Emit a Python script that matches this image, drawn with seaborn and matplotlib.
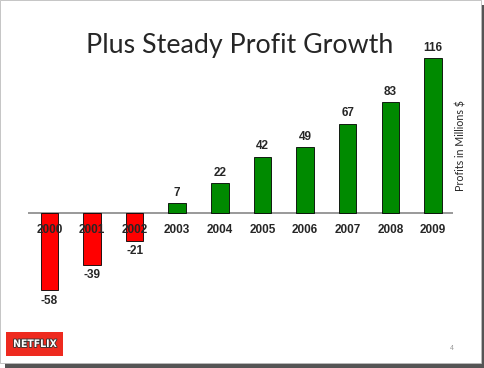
import matplotlib
matplotlib.use("Agg")
import matplotlib.pyplot as plt
import seaborn as sns
import pandas as pd
from matplotlib.patches import Rectangle
import matplotlib.patheffects as pe

years = ["2000", "2001", "2002", "2003", "2004", "2005", "2006", "2007", "2008", "2009"]
profits = [-58, -39, -21, 7, 22, 42, 49, 67, 83, 116]
title = "Plus Steady Profit Growth"
ylabel = "Profits in Millions $"

df = pd.DataFrame({"year": years, "profit": profits})
palette = {y: ("#ff0000" if p < 0 else "#008a00") for y, p in zip(years, profits)}

sns.set_style("white")
plt.rcParams['font.family'] = ['Liberation Sans', 'DejaVu Sans']

fig = plt.figure(figsize=(4.85, 3.68), dpi=100)

# slide shadow and frame
W, H = 485, 368
fig.patches.append(Rectangle((5 / W, 0), 476 / W, 5 / H, transform=fig.transFigure,
                             facecolor="#555555", edgecolor="none", zorder=0))
fig.patches.append(Rectangle((481 / W, 0), 4 / W, 363 / H, transform=fig.transFigure,
                             facecolor="#555555", edgecolor="none", zorder=0))
fig.patches.append(Rectangle((0, 5 / H), 481 / W, 363 / H, transform=fig.transFigure,
                             facecolor="white", edgecolor="#bbbbbb", linewidth=0.6, zorder=1))

ax = fig.add_axes([28 / W, 1 - 305.9 / H, 425 / W, (305.9 - 46.3) / H])
ax.set_zorder(5)
ax.set_facecolor("none")
sns.barplot(data=df, x="year", y="profit", hue="year", palette=palette, legend=False,
            width=0.41, edgecolor="black", linewidth=0.6, saturation=1, ax=ax)
ax.set_ylim(-70, 125)
ax.set_xlim(-0.5, 9.47)
ax.axhline(0, color="#888888", linewidth=1.2, zorder=0.5)
for s in ax.spines.values():
    s.set_visible(False)
ax.set_yticks([])
ax.set_xlabel("")
ax.set_ylabel("")
ax.set_xticks([])
for i, y in enumerate(years):
    ax.text(i, -13.3, y, ha="center", va="center", fontsize=8.5, fontweight="bold", zorder=5)
for i, p in enumerate(profits):
    if p >= 0:
        ax.text(i, p + 8, str(p), ha="center", va="center", fontsize=8.5, fontweight="bold")
    else:
        ax.text(i, p - 8, str(p), ha="center", va="center", fontsize=8.5, fontweight="bold")

fig.text(240 / W, 1 - 46 / H, title, ha="center", va="center", fontsize=19.3,
         family=["Lato", "DejaVu Sans"])
fig.text(461 / W, 1 - 146 / H, ylabel, ha="center", va="center", rotation=90,
         fontsize=7.7, family=["Lato", "DejaVu Sans"])
fig.text(452 / W, 1 - 348 / H, "4", ha="center", va="center", fontsize=5, color="#999999")

# Netflix logo
fig.patches.append(Rectangle((6 / W, 1 - 356 / H), 57 / W, 24 / H, transform=fig.transFigure,
                             facecolor="#ee2a1f", edgecolor="none", zorder=2))
fig.text(35 / W, 1 - 344 / H, "NETFLIX", ha="center", va="center", fontsize=7.5,
         fontweight="bold", color="white", family=["DejaVu Sans"], fontstretch="condensed",
         path_effects=[pe.withStroke(linewidth=1.2, foreground="#333333")], zorder=3)

fig.savefig("out.png", dpi=100)
